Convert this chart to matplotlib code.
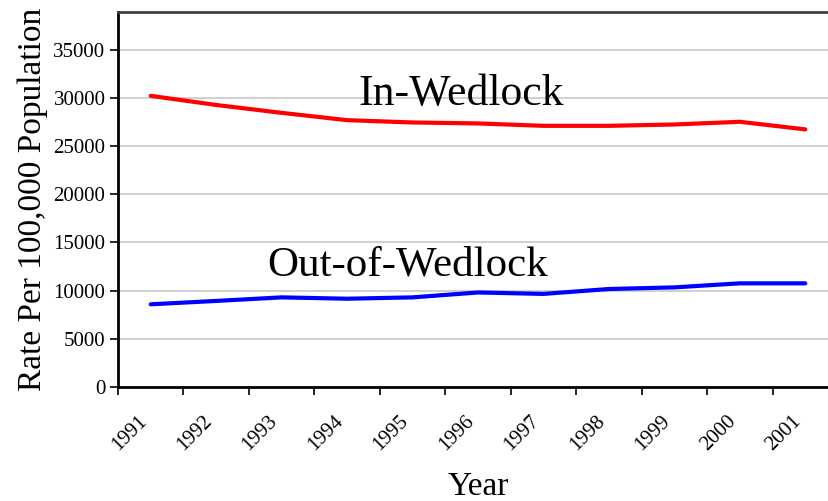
import numpy as np
import matplotlib
matplotlib.use("Agg")
import matplotlib.pyplot as plt

plt.rcParams['font.family'] = ['Liberation Serif', 'DejaVu Serif']

years = ['1991', '1992', '1993', '1994', '1995', '1996',
         '1997', '1998', '1999', '2000', '2001']
in_wedlock = [30250, 29300, 28480, 27720, 27480, 27380,
              27130, 27130, 27270, 27550, 26760]
out_wedlock = [8570, 8920, 9290, 9150, 9290, 9800,
               9650, 10160, 10330, 10750, 10750]

fig = plt.figure(figsize=(8.29, 5.01), dpi=100)
ax = fig.add_axes([118/829, 114.3/501, 720/829, 375/501])

x = np.arange(len(years)) + 0.5
ax.plot(x, in_wedlock, color='#ff0000', lw=3, solid_capstyle='round')
ax.plot(x, out_wedlock, color='#0000ff', lw=3, solid_capstyle='round')

ax.set_xlim(0, len(years))
ax.set_ylim(0, 39000)
ax.set_yticks(np.arange(0, 35001, 5000))
ax.yaxis.grid(True, color='#c8c8c8', lw=1.2)
ax.set_axisbelow(True)

ax.set_xticks(np.arange(0, len(years) + 1))
ax.set_xticklabels([])
ax.set_xticks(x, minor=True)
# anchor at bottom-right so the label's end sits right under the point
ax.set_xticklabels(years, minor=True, rotation=45, ha='right', va='bottom',
                   rotation_mode='anchor', fontsize=15)
ax.tick_params(axis='x', which='minor', length=0, pad=28)
ax.tick_params(axis='x', which='major', length=6, width=1.2, direction='out')
ax.tick_params(axis='y', length=6, width=1.2, labelsize=15, pad=3)

for s in ['left', 'bottom']:
    ax.spines[s].set_linewidth(2)
    ax.spines[s].set_color('black')
ax.spines['top'].set_color('#404040')
ax.spines['top'].set_linewidth(2)
ax.spines['right'].set_color('#404040')

ax.set_ylabel('Rate Per 100,000 Population', fontsize=24, labelpad=4)
ax.set_xlabel('Year', fontsize=24, labelpad=12)

ax.text(3.667, 29280, 'In-Wedlock', fontsize=31.5, va='baseline')
ax.text(2.277, 11610, 'Out-of-Wedlock', fontsize=31, va='baseline')

fig.savefig('out.png', dpi=100)
